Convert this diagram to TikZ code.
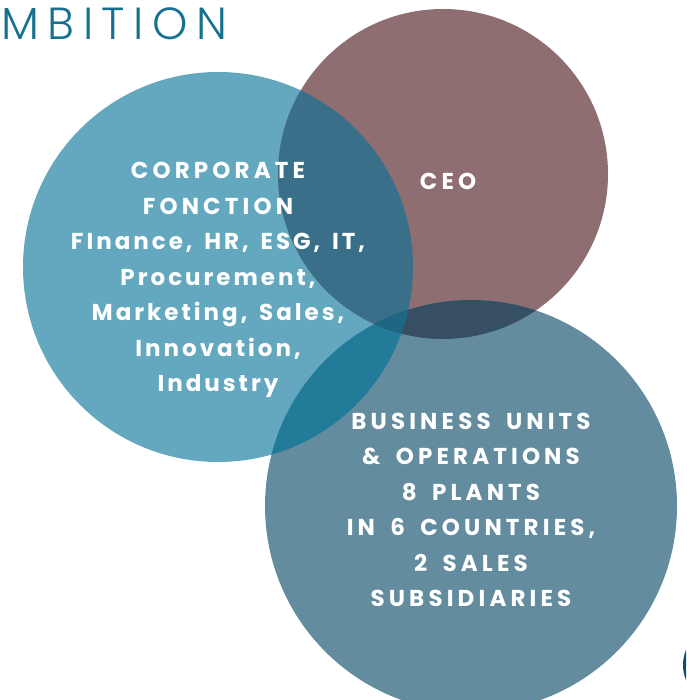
\documentclass[tikz,border=0pt]{standalone}
\usepackage{fontspec}
\setmainfont{Poppins}
\newfontfamily\capsfont[LetterSpace=18,WordSpace=1.7]{Poppins}
\newfontfamily\mixedfont[LetterSpace=13,WordSpace=1.5]{Poppins}
\newfontfamily\titlefont[LetterSpace=19]{Poppins Light}
\definecolor{cLeft}{HTML}{63A8BF}
\definecolor{cCeo}{HTML}{8E6E70}
\definecolor{cBot}{HTML}{648C9F}
\definecolor{cLeftCeo}{HTML}{3A6F8A}
\definecolor{cLeftBot}{HTML}{227B99}
\definecolor{cCeoBot}{HTML}{374F62}
\definecolor{cAll}{HTML}{1E6783}
\definecolor{cTitle}{HTML}{16708F}
\definecolor{cEdge}{HTML}{0B4F6C}
\newcommand{\caps}[1]{{\capsfont\bfseries #1}}
\newcommand{\mixed}[1]{{\mixedfont\bfseries #1}}
\tikzset{
  circlabel/.style={text=white, align=center, inner sep=0pt,
    font=\bfseries\fontsize{23}{35.5}\selectfont},
}
\begin{document}
\begin{tikzpicture}[x=1pt,y=-1pt]
\useasboundingbox (0,0) rectangle (686,700);
\clip (0,0) rectangle (686,700);
% circle geometry
\def\leftC{(218,267) circle [radius=195]}
\def\ceoC{(443,174) circle [radius=165]}
\def\botC{(471,506) circle [radius=206]}
% base discs
\fill[cLeft] \leftC;
\fill[cCeo] \ceoC;
\fill[cBot] \botC;
% pairwise overlaps
\begin{scope}\clip \leftC; \fill[cLeftCeo] \ceoC; \end{scope}
\begin{scope}\clip \leftC; \fill[cLeftBot] \botC; \end{scope}
\begin{scope}\clip \ceoC; \fill[cCeoBot] \botC; \end{scope}
% triple overlap
\begin{scope}\clip \leftC; \clip \ceoC; \fill[cAll] \botC; \end{scope}
% edge of the next disc
\fill[cEdge] (722,665) circle [radius=39];
% title
\node[anchor=base west, inner sep=0pt, text=cTitle,
  font=\titlefont\fontsize{45}{45}\selectfont] (title) at (1,40) {MBITION};
% labels
\node[circlabel] (corp) at (218,280) {\caps{CORPORATE}\\\caps{FONCTION}\\\mixed{FInance, HR, ESG, IT,}\\\mixed{Procurement,}\\\mixed{Marketing, Sales,}\\\mixed{Innovation,}\\\mixed{Industry}};
\node[circlabel] (ceo) at (448,181) {\caps{CEO}};
\node[circlabel] (bu) at (471,510) {\caps{BUSINESS UNITS}\\\caps{\& OPERATIONS}\\\caps{8 PLANTS}\\\caps{IN 6 COUNTRIES,}\\\caps{2 SALES}\\\caps{SUBSIDIARIES}};
\end{tikzpicture}
\end{document}
